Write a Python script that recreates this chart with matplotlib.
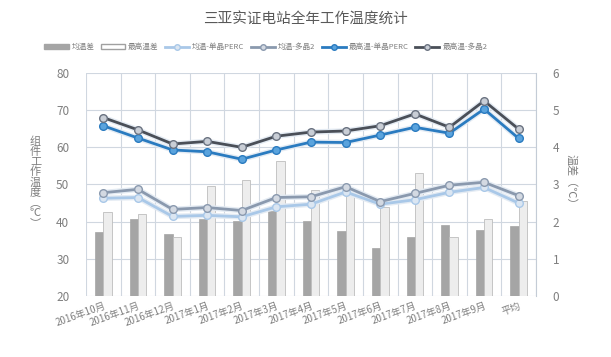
import matplotlib.pyplot as plt
import numpy as np
from matplotlib.lines import Line2D
from matplotlib.patches import Patch

plt.rcParams['font.family'] = ['Noto Sans CJK SC', 'DejaVu Sans']

categories = ['2016年10月', '2016年11月', '2016年12月', '2017年1月', '2017年2月', '2017年3月',
              '2017年4月', '2017年5月', '2017年6月', '2017年7月', '2017年8月', '2017年9月', '平均']
# right axis (温差)
avg_diff = [1.73, 2.07, 1.67, 2.08, 2.02, 2.30, 2.02, 1.75, 1.28, 1.59, 1.92, 1.77, 1.87]
max_diff = [2.26, 2.20, 1.60, 2.96, 3.13, 3.63, 2.85, 2.82, 2.39, 3.31, 1.58, 2.08, 2.56]
# left axis (组件工作温度)
avg_mono = [46.3, 46.5, 41.4, 41.7, 41.3, 44.0, 44.7, 48.0, 44.7, 45.9, 47.9, 49.2, 45.0]
avg_poly = [47.8, 48.7, 43.3, 43.8, 43.0, 46.5, 46.7, 49.4, 45.4, 47.6, 49.8, 50.6, 47.0]
max_mono = [65.8, 62.5, 59.3, 58.8, 56.8, 59.3, 61.4, 61.3, 63.3, 65.4, 63.8, 70.3, 62.4]
max_poly = [68.0, 64.7, 60.9, 61.6, 60.0, 63.0, 64.1, 64.4, 65.8, 69.0, 65.4, 72.5, 64.9]

txt = '#7f7f7f'
grid_c = '#d0d7e0'

fig = plt.figure(figsize=(6.11, 3.57), dpi=100)
ax = fig.add_axes([0.1408, 0.1709, 0.7364, 0.6246])
ax2 = ax.twinx()
ax.set_zorder(ax2.get_zorder() + 1)
ax.patch.set_visible(False)

x = np.arange(len(categories))
w = 0.24
ax2.bar(x - w / 2, avg_diff, w, color='#a5a5a5', edgecolor='#a5a5a5', linewidth=0.5)
ax2.bar(x + w / 2, max_diff, w, color='#ededed', edgecolor='#bdbdbd', linewidth=0.6)
ax2.set_ylim(0, 6)
ax2.set_yticks(range(0, 7))

ax.set_ylim(20, 80)
ax.set_yticks(range(20, 81, 10))
ax.set_xlim(-0.5, len(categories) - 0.5)

series = [
    (avg_mono, '#a9c8e8', '#dbe6f2', '#a9c8e8'),
    (avg_poly, '#8a99ae', '#d3d9e2', '#8a99ae'),
    (max_mono, '#2a7bc0', '#5aa3dd', '#2a7bc0'),
    (max_poly, '#4a4f58', '#c9ced6', '#6a7280'),
]
for vals, lc, mf, me in series:
    ax.plot(x, vals, color='#e4ebf3', lw=4.0, zorder=3, solid_joinstyle='round')
    ax.plot(x, vals, color=lc, lw=2.0, marker='o', ms=5.5, mfc=mf, mec=me, mew=1,
            zorder=4)

# grid: horizontal at ticks, vertical at category boundaries
for yv in range(20, 81, 10):
    ax2.axhline((yv - 20) / 10, color=grid_c, lw=0.8, zorder=0)
for xv in np.arange(-0.5, len(categories), 1):
    ax2.axvline(xv, color=grid_c, lw=0.8, zorder=0)

for a in (ax, ax2):
    for s in a.spines.values():
        s.set_visible(False)
    a.tick_params(length=0, colors=txt, labelsize=8.5)
ax2.spines['right'].set_visible(True)
ax2.spines['right'].set_color('#c4ccd6')
ax.set_xticks(x)
ax.set_xticklabels(categories, rotation=20, ha='right', rotation_mode='anchor',
                   fontsize=7, color=txt)
ax.tick_params(axis='y', pad=12)
ax2.tick_params(axis='y', pad=12)

fig.text(0.058, 0.49, '组\n件\n工\n作\n温\n度\n︵\n℃\n︶', ha='center', va='center',
         fontsize=8, color=txt, linespacing=1.0)
fig.text(0.935, 0.49, '温差（℃）', rotation=270, ha='center', va='center',
         fontsize=8, color=txt)

fig.text(0.5, 0.945, '三亚实证电站全年工作温度统计', ha='center', va='center',
         fontsize=10.5, color='#595959')

handles = [
    Patch(facecolor='#a5a5a5', edgecolor='#a5a5a5'),
    Patch(facecolor='#ffffff', edgecolor='#a0a0a0'),
]
for vals, lc, mf, me in series:
    handles.append(Line2D([], [], color=lc, lw=2, marker='o', ms=4, mfc=mf, mec=me))
labels = ['均温差', '最高温差', '均温-单晶PERC', '均温-多晶2', '最高温-单晶PERC', '最高温-多晶2']
fig.legend(handles, labels, loc='center', bbox_to_anchor=(0.435, 0.868), ncol=6,
           frameon=False, fontsize=5.5, labelcolor=txt, handlelength=3.2,
           handletextpad=0.4, columnspacing=0.8, handleheight=0.6)

fig.savefig('out.png', dpi=100)
